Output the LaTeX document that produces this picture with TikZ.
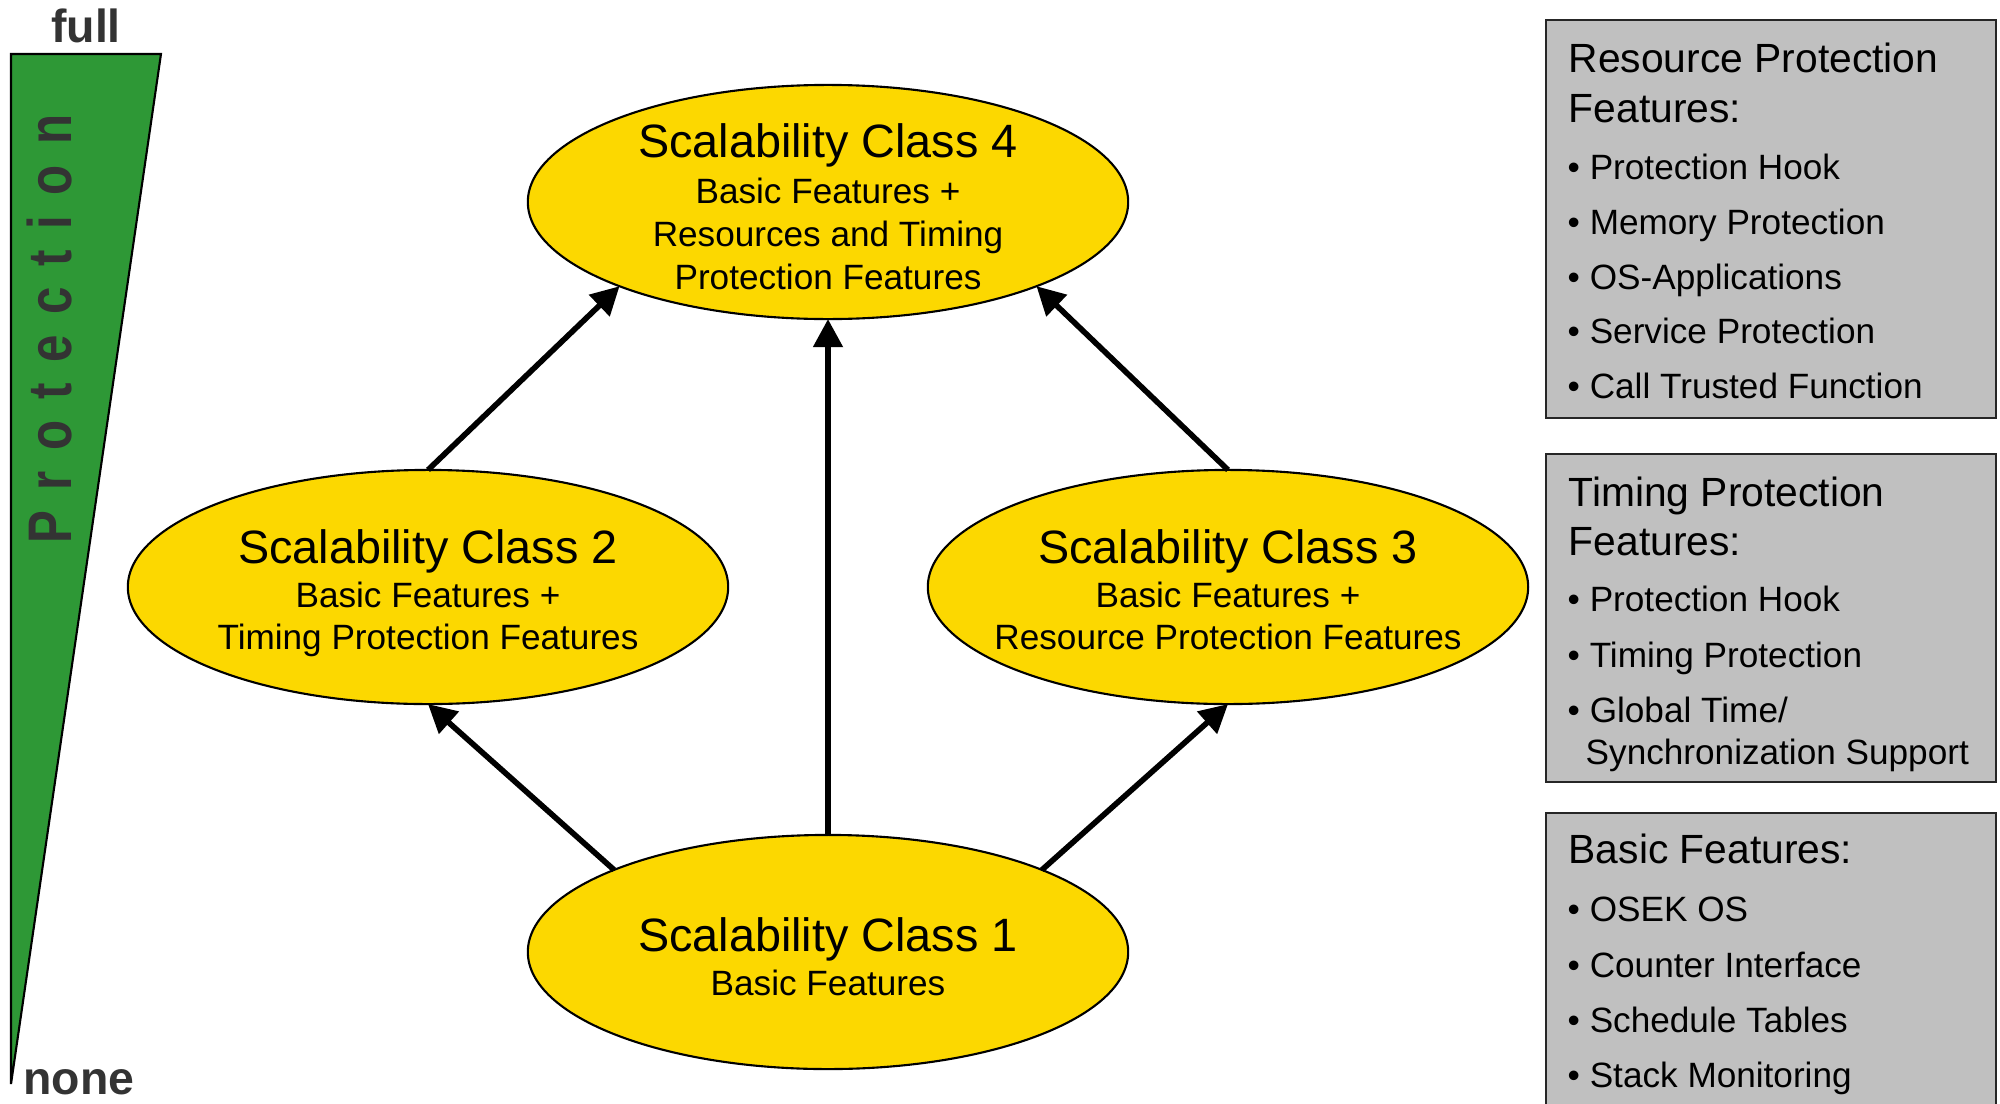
\documentclass[tikz,border=0pt]{standalone}
\usepackage{fontspec}
\setmainfont{Liberation Sans}
\usetikzlibrary{shapes.geometric,arrows.meta}
\definecolor{scyellow}{RGB}{252,216,0}
\definecolor{protgreen}{RGB}{46,152,54}
\definecolor{boxgray}{RGB}{192,192,192}
\definecolor{labelgray}{RGB}{51,51,51}
\newcommand\protgap{\kern0.42em}

\begin{document}
\begin{tikzpicture}[x=0.01cm,y=-0.01cm,
  scell/.style={ellipse,draw=black,line width=0.6pt,fill=scyellow,
    minimum width=6cm,minimum height=2.34cm,inner sep=0pt,outer sep=0pt},
  bigtxt/.style={anchor=base,font=\fontsize{13.3}{16}\selectfont,inner sep=0pt},
  smalltxt/.style={anchor=base,font=\fontsize{10}{12}\selectfont,inner sep=0pt},
  featbox/.style={draw=black!85,line width=0.6pt,fill=boxgray,
    minimum width=4.5cm,anchor=north west,inner sep=0pt},
  boxtitle/.style={anchor=base west,font=\fontsize{11.6}{14}\selectfont,inner sep=0pt},
  boxitem/.style={anchor=base west,font=\fontsize{10}{12}\selectfont,inner sep=0pt},
  upgrade/.style={line width=1.6pt,-{Triangle[length=8pt,width=8.2pt]}},
  scalelbl/.style={font=\bfseries\fontsize{13.2}{16}\selectfont,text=labelgray,inner sep=0pt}
]
\useasboundingbox (0,0) rectangle (2000,1103);
\clip (0,0) rectangle (2000,1103);

% protection wedge
\filldraw[fill=protgreen,draw=black,line width=0.6pt] (11,54) -- (161,54) -- (11,1084) -- cycle;
\node[scalelbl] (full) at (86,26) {full};
\node[scalelbl] (none) at (79,1082) {none};
\node[scalelbl,rotate=90,font=\bfseries\fontsize{14}{16}\selectfont] (prot) at (50,329)
  {\scalebox{1}[1.25]{P\protgap r\protgap o\protgap t\protgap e\protgap c\protgap t\protgap i\protgap o\protgap n}};

% scalability classes
\node[scell] (sc4) at (828,202) {};
\node[scell] (sc2) at (428,587) {};
\node[scell] (sc3) at (1228,587) {};
\node[scell] (sc1) at (828,952) {};

\node[bigtxt] (sc4a) at (828,157) {Scalability Class 4};
\node[smalltxt] (sc4b) at (828,203) {Basic Features +};
\node[smalltxt] (sc4c) at (828,246) {Resources and Timing};
\node[smalltxt] (sc4d) at (828,289) {Protection Features};

\node[bigtxt] (sc2a) at (428,563) {Scalability Class 2};
\node[smalltxt] (sc2b) at (428,607) {Basic Features +};
\node[smalltxt] (sc2c) at (428,649) {Timing Protection Features};

\node[bigtxt] (sc3a) at (1228,563) {Scalability Class 3};
\node[smalltxt] (sc3b) at (1228,607) {Basic Features +};
\node[smalltxt] (sc3c) at (1228,649) {Resource Protection Features};

\node[bigtxt] (sc1a) at (828,951) {Scalability Class 1};
\node[smalltxt] (sc1b) at (828,995) {Basic Features};

% upgrade paths
\draw[upgrade] (sc1.159) -- (sc2.south);
\draw[upgrade] (sc1.north) -- (sc4.south);
\draw[upgrade] (sc1.21) -- (sc3.south);
\draw[upgrade] (sc2.north) -- (sc4.202);
\draw[upgrade] (sc3.north) -- (sc4.338);

% feature lists
\node[featbox,minimum height=3.98cm] (rpbox) at (1545,19) {};
\node[boxtitle] (rp1) at (1568,72) {Resource Protection};
\node[boxtitle] (rp2) at (1568,122) {Features:};
\node[boxitem] (rp3) at (1567,179) {• Protection Hook};
\node[boxitem] (rp4) at (1567,234) {• Memory Protection};
\node[boxitem] (rp5) at (1567,289) {• OS-Applications};
\node[boxitem] (rp6) at (1567,343) {• Service Protection};
\node[boxitem] (rp7) at (1567,398) {• Call Trusted Function};

\node[featbox,minimum height=3.28cm] (tpbox) at (1545,453) {};
\node[boxtitle] (tp1) at (1568,506) {Timing Protection};
\node[boxtitle] (tp2) at (1568,555) {Features:};
\node[boxitem] (tp3) at (1567,611) {• Protection Hook};
\node[boxitem] (tp4) at (1567,667) {• Timing Protection};
\node[boxitem] (tp5) at (1567,722) {• Global Time/};
\node[boxitem] (tp6) at (1585,764) {Synchronization Support};

\node[featbox,minimum height=3.0cm] (bfbox) at (1545,812) {};
\node[boxtitle] (bf1) at (1568,863) {Basic Features:};
\node[boxitem] (bf2) at (1567,921) {• OSEK OS};
\node[boxitem] (bf3) at (1567,977) {• Counter Interface};
\node[boxitem] (bf4) at (1567,1032) {• Schedule Tables};
\node[boxitem] (bf5) at (1567,1087) {• Stack Monitoring};
\end{tikzpicture}
\end{document}
